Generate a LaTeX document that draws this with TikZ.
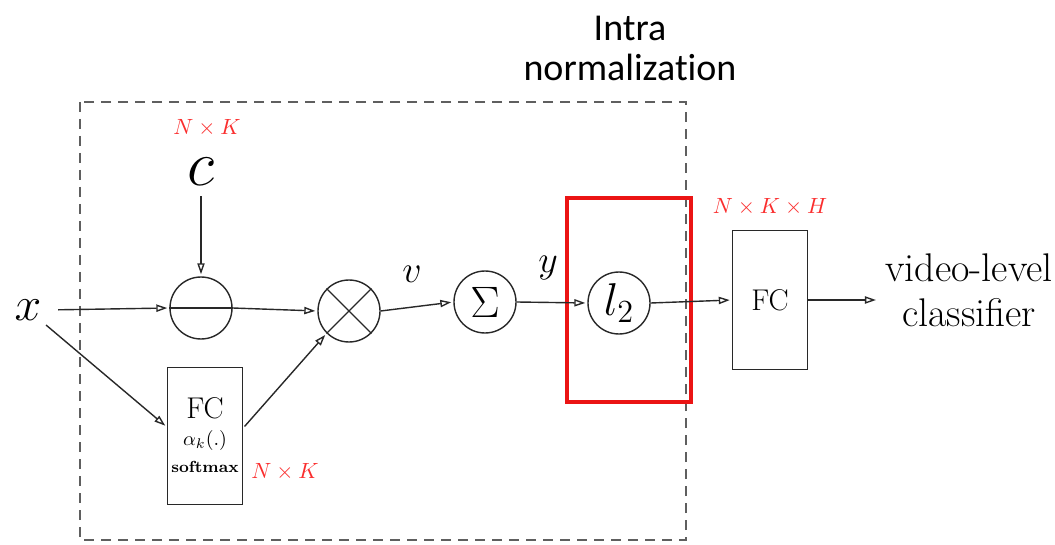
\RequirePackage{fix-cm}
\documentclass[tikz,border=0pt]{standalone}
\usepackage{fontspec}
\newfontfamily\calibri[Ligatures=NoCommon]{Carlito}
\usetikzlibrary{arrows.meta}
\definecolor{linegray}{RGB}{40,40,40}
\definecolor{dashgray}{RGB}{95,95,95}
\definecolor{dimred}{RGB}{250,45,45}
\definecolor{boxred}{RGB}{235,20,20}
\newcommand{\fsz}[1]{\fontsize{#1}{#1}\selectfont}

\begin{document}
\begin{tikzpicture}[
        x=0.5pt, y=-0.5pt,
        line width=0.7pt,
        >={Triangle[open, length=5.5pt, width=3.6pt]},
        op/.style={circle, draw=linegray, minimum size=31pt, inner sep=0pt},
        fcbox/.style={draw=linegray, minimum width=37.5pt, minimum height=68.5pt, inner sep=0pt},
        dim/.style={text=dimred, font=\fsz{11}},
        sym/.style={inner sep=2pt},
        arrow/.style={draw=linegray, ->, shorten >=1pt}
    ]
        \useasboundingbox (0,0) rectangle (1055,545);
        \draw[dashgray, line width=0.6pt, dash pattern=on 5pt off 3.5pt] (80,102) rectangle (686,540);
        \draw[boxred, line width=2pt] (567,198) rectangle (691,402);

        \node[font=\calibri\fontsize{19}{20}\selectfont, align=center] (intra) at (630,48) {Intra\\normalization};

        \node[sym, font=\fsz{24}] (x) at (28,310) {$x$};
        \node[inner sep=0pt, font=\fsz{32}] (c) at (201,172) {$c$};
        \node[dim] (dimc) at (207,128) {$N\times K$};
        \node[op] (minus) at (201,308) {};
        \node[op] (prod) at (349,311) {};
        \node[fcbox] (fcone) at (205,436) {};
        \node[font=\fsz{15}] (fclabel) at (205,408) {FC};
        \node[font=\fsz{10}] (alpha) at (205,440) {$\alpha_k(.)$};
        \node[font=\fsz{8}\bfseries] (soft) at (205,467) {softmax};
        \node[dim] (dima) at (285,472) {$N\times K$};
        \node[op, font=\fsz{22}] (sum) at (485,302) {$\Sigma$};
        \node[op, font=\fsz{23}] (norm) at (619,303) {$l_2$};
        \node[font=\fsz{19}] (v) at (412,274) {$v$};
        \node[font=\fsz{19}] (y) at (548,268) {$y$};
        \node[fcbox, minimum height=69.5pt, font=\fsz{15}] (fctwo) at (770,300) {FC};
        \node[dim] (dimh) at (770,207) {$N\times K\times H$};
        \node[font=\fontsize{20}{22.5}\selectfont, align=center] (out) at (969,290) {video-level\\classifier};

        \draw[linegray] (minus.west) -- (minus.east);
        \draw[linegray] (prod.north west) -- (prod.south east);
        \draw[linegray] (prod.north east) -- (prod.south west);

        \draw[arrow, shorten <=6pt] (x.east) -- (minus.west);
        \draw[arrow] (x.south east) -- ([yshift=4.5pt]fcone.west);
        \draw[arrow, shorten <=5pt] (c.south) -- (minus.north);
        \draw[arrow] (minus.east) -- (prod.west);
        \draw[arrow, shorten <=1pt] ([yshift=4pt]fcone.east) -- (prod.south west);
        \draw[arrow] (prod.east) -- (sum.west);
        \draw[arrow] (sum.east) -- (norm.west);
        \draw[arrow] (norm.east) -- (fctwo.west);
        \draw[arrow] (fctwo.east) -- (fctwo.east -| out.west);
    \end{tikzpicture}
\end{document}
